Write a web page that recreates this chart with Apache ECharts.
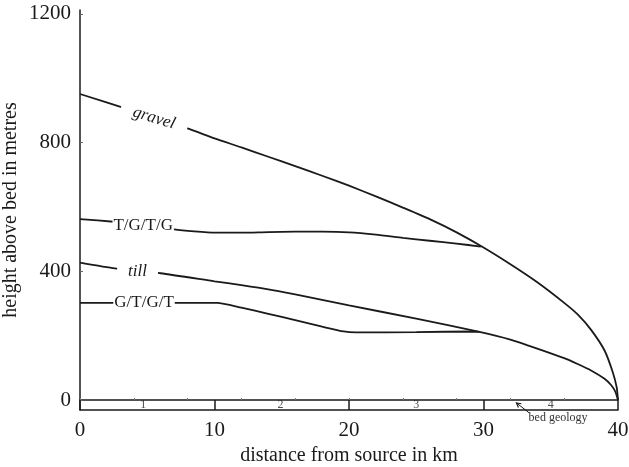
<!DOCTYPE html>
<html><head><meta charset="utf-8">
<script src="https://cdn.jsdelivr.net/npm/echarts@6/dist/echarts.min.js"></script>
<style>html,body{margin:0;padding:0;background:#fff}#c{width:629px;height:467px}</style>
</head><body><div id="c"></div>
<script>
// ---- data ----
const xTicks = [0, 10, 20, 30, 40];
const yTicks = [0, 400, 800, 1200];

const gravelKm = [0, 4, 8, 10, 12, 14, 16, 18, 20, 22, 24, 26, 28, 30, 32, 34, 36, 37, 38, 39, 39.6, 39.9, 40];
const gravelH  = [951, 898, 844, 813, 785, 756, 727, 697, 666, 633, 598, 562, 521, 474, 422, 366, 302, 266, 218, 154, 88, 40, 0];

const tgtgKm = [0, 2.5, 5, 7, 8.5, 10, 12, 14, 16, 18, 20, 22, 24, 26, 28, 29.8];
const tgtgH  = [562, 554, 543, 530, 524, 520, 520, 522, 523, 523, 521, 514, 504, 495, 486, 477];

const tillKm = [0, 2.6, 6, 10, 12, 14, 16, 18, 20, 25, 29.7, 32, 34, 36, 37, 38, 39, 39.5, 39.8, 40];
const tillH  = [427, 409, 394, 369, 357, 344, 328, 311, 294, 253, 212, 188, 160, 130, 112, 92, 66, 46, 26, 0];

const gtgtKm = [0, 5, 10.2, 12, 14, 16, 18, 19.6, 20.5, 25, 29.3, 29.7];
const gtgtH  = [302, 302, 302, 287, 268, 248, 228, 213, 210, 211, 213, 212];

const lineNames = ['gravel', 'T/G/T/G', 'till', 'G/T/G/T'];
const lineLabelKm = [5.5, 4.7, 4.28, 4.76];
const lineLabelH  = [876, 542, 400, 302];

const geoUnits = ['1', '2', '3', '4'];
const geoUnitKm = [4.7, 14.9, 25, 35];
const geoUnitH = -15.5;

// ---- chart ----
const FONT = 'Liberation Serif, DejaVu Serif, serif';
const INK = '#1a1a1a';
const zip = (a, b) => a.map((v, i) => [v, b[i]]);

const labelStyles = [
  { fontStyle: 'italic', rotate: -17, padding: [0, 13] },
  { fontStyle: 'normal', rotate: 0, padding: [0, 1] },
  { fontStyle: 'italic', rotate: 0, padding: [0, 11] },
  { fontStyle: 'normal', rotate: 0, padding: [0, 1] }
];

function lineSeries(name, xs, ys) {
  return {
    name, type: 'line', data: zip(xs, ys), symbol: 'none', smooth: 0.2,
    lineStyle: { color: INK, width: 1.8 }, z: 2, silent: true
  };
}

const chart = echarts.init(document.getElementById('c'), null, { renderer: 'canvas' });
const option = {
  animation: false,
  backgroundColor: '#fff',
  grid: { left: 80, right: 11, top: 10, bottom: 57, containLabel: false, outerBoundsMode: 'none' },
  xAxis: [
    {
      type: 'value', min: 0, max: 40, interval: 10,
      axisLine: { show: true, onZero: false, lineStyle: { color: INK, width: 1.5 } },
      axisTick: { show: true, inside: true, length: 10, lineStyle: { color: INK, width: 1.5 } },
      axisLabel: { show: true, fontFamily: FONT, fontSize: 21, color: INK, margin: 10, formatter: v => String(v) },
      splitLine: { show: false },
      name: 'distance from source in km', nameLocation: 'middle', nameGap: 36,
      nameTextStyle: { fontFamily: FONT, fontSize: 20, color: INK }
    },
    {
      type: 'value', min: 0, max: 40, interval: 4, position: 'bottom',
      axisLine: { show: true, onZero: true, lineStyle: { color: INK, width: 1.5 } },
      axisTick: { show: true, inside: true, length: 2, lineStyle: { color: '#777', width: 1 } },
      axisLabel: { show: false },
      splitLine: { show: false }
    }
  ],
  yAxis: {
    type: 'value', min: -31, max: 1212,
    axisLine: { show: true, onZero: false, lineStyle: { color: INK, width: 1.5 } },
    axisTick: { show: true, inside: true, length: 3, customValues: yTicks, lineStyle: { color: '#666', width: 1 } },
    axisLabel: { show: true, customValues: yTicks, fontFamily: FONT, fontSize: 21, color: INK, margin: 9, formatter: v => String(v) },
    splitLine: { show: false },
    name: 'height above bed in metres', nameLocation: 'middle', nameGap: 59, nameRotate: 90,
    nameMoveOverlap: false,
    nameTextStyle: { fontFamily: FONT, fontSize: 20, color: INK }
  },
  series: [
    lineSeries(lineNames[0], gravelKm, gravelH),
    lineSeries(lineNames[1], tgtgKm, tgtgH),
    lineSeries(lineNames[2], tillKm, tillH),
    lineSeries(lineNames[3], gtgtKm, gtgtH),
    {
      type: 'scatter', silent: true, z: 5, symbolSize: 1,
      itemStyle: { color: '#fff' },
      data: lineNames.map((n, i) => ({
        value: [lineLabelKm[i], lineLabelH[i]],
        label: {
          show: true, position: 'inside', formatter: n,
          fontFamily: FONT, fontSize: 17, color: INK, opacity: 1,
          textBorderWidth: 0, textShadowBlur: 0,
          fontStyle: labelStyles[i].fontStyle, rotate: labelStyles[i].rotate,
          backgroundColor: '#fff', padding: labelStyles[i].padding
        }
      }))
    },
    {
      type: 'scatter', silent: true, z: 5, symbolSize: 1,
      itemStyle: { color: '#fff' },
      data: geoUnits.map((u, i) => ({
        value: [geoUnitKm[i], geoUnitH],
        label: { show: true, position: 'inside', formatter: u, fontFamily: FONT, fontSize: 12, color: '#222', textBorderWidth: 0 }
      }))
    }
  ]
};
chart.setOption(option);

// annotation: arrow + "bed geology"
const head = chart.convertToPixel({ xAxisIndex: 0, yAxisIndex: 0 }, [32.45, -9]);
const tail = chart.convertToPixel({ xAxisIndex: 0, yAxisIndex: 0 }, [33.4, -40]);
const txt = chart.convertToPixel({ xAxisIndex: 0, yAxisIndex: 0 }, [33.35, -54]);
const ang = Math.atan2(tail[1] - head[1], tail[0] - head[0]);
const hl = 5, spread = 0.5;
chart.setOption({
  graphic: [
    { type: 'line', shape: { x1: tail[0], y1: tail[1], x2: head[0], y2: head[1] }, style: { stroke: INK, lineWidth: 1 }, silent: true },
    { type: 'polyline', shape: { points: [
        [head[0] + hl * Math.cos(ang - spread), head[1] + hl * Math.sin(ang - spread)],
        [head[0], head[1]],
        [head[0] + hl * Math.cos(ang + spread), head[1] + hl * Math.sin(ang + spread)]
      ] }, style: { stroke: INK, lineWidth: 1.2, fill: null }, silent: true },
    { type: 'text', x: txt[0], y: txt[1], style: { text: 'bed geology', font: '12px ' + FONT, fill: '#333', textVerticalAlign: 'middle', textAlign: 'left' }, silent: true }
  ]
});
</script>
</body></html>
